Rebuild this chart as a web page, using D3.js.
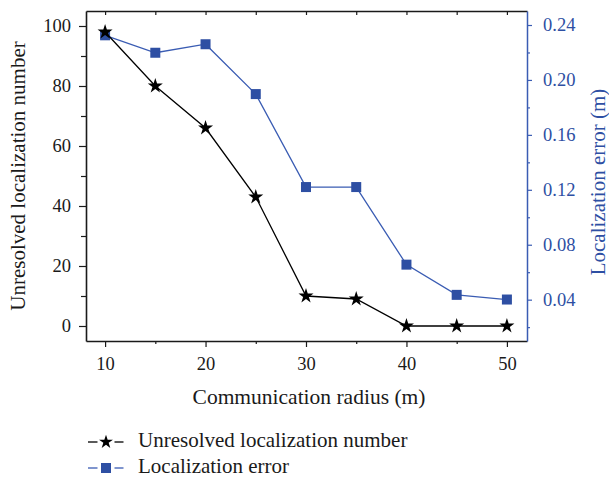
<!DOCTYPE html>
<html>
<head>
<meta charset="utf-8">
<script src="https://cdn.jsdelivr.net/npm/d3@7"></script>
<style>
  html, body { margin: 0; padding: 0; background: #fff; }
  svg text { font-family: "Liberation Serif", "DejaVu Serif", serif; }
</style>
</head>
<body>
<svg id="chart" width="609" height="478"></svg>
<script>
// Communication radius (m)
const radius = [10, 15, 20, 25, 30, 35, 40, 45, 50];
// Number of nodes left unresolved
const unresolved = [98, 80, 66, 43, 10, 9, 0, 0, 0];
// Mean localization error (m)
const locError = [0.2325, 0.2198, 0.226, 0.1897, 0.122, 0.122, 0.0655, 0.0435, 0.0401];

const xTicks = [10, 20, 30, 40, 50];
const xMinor = [15, 25, 35, 45];
const yLeftTicks = [0, 20, 40, 60, 80, 100];
const yLeftMinor = [10, 30, 50, 70, 90];
const yRightTicks = [0.04, 0.08, 0.12, 0.16, 0.20, 0.24];
const yRightMinor = [0.02, 0.06, 0.10, 0.14, 0.18, 0.22];

const seriesNames = ["Unresolved localization number", "Localization error"];

const BLUE = "#2e4fa3";
const BLUE_LINE = "#3a5cb3";
const INK = "#1a1a1a";

const svg = d3.select("#chart");
const m = { left: 86, right: 527, top: 11, bottom: 341 };

const x = d3.scaleLinear().domain([8.1, 52]).range([m.left, m.right]);
const yL = d3.scaleLinear().domain([-5, 105]).range([m.bottom, m.top]);
const yR = d3.scaleLinear().domain([0.0099, 0.2502]).range([m.bottom, m.top]);

function styleTicks(g, color) {
  g.selectAll(".tick line").attr("stroke", color).attr("stroke-width", 1.2);
  g.selectAll(".tick text").attr("font-size", 18.5).attr("fill", color)
    .attr("font-family", "Liberation Serif, serif");
}

// Left axis (black)
svg.append("g").attr("transform", `translate(${m.left},0)`)
  .call(d3.axisLeft(yL).tickValues(yLeftMinor).tickSize(5).tickSizeOuter(0).tickFormat(""))
  .call(g => g.select(".domain").remove())
  .call(g => styleTicks(g, INK));
svg.append("g").attr("transform", `translate(${m.left},0)`)
  .call(d3.axisLeft(yL).tickValues(yLeftTicks).tickSize(7).tickSizeOuter(0).tickPadding(8).tickFormat(d3.format("d")))
  .call(g => g.select(".domain").attr("stroke", INK).attr("stroke-width", 1.6))
  .call(g => styleTicks(g, INK));

// Bottom axis
svg.append("g").attr("transform", `translate(0,${m.bottom})`)
  .call(d3.axisBottom(x).tickValues(xMinor).tickSize(3).tickSizeOuter(0).tickFormat(""))
  .call(g => g.select(".domain").remove())
  .call(g => styleTicks(g, INK));
svg.append("g").attr("transform", `translate(0,${m.bottom})`)
  .call(d3.axisBottom(x).tickValues(xTicks).tickSize(6).tickSizeOuter(0).tickPadding(10).tickFormat(d3.format("d")))
  .call(g => g.select(".domain").attr("stroke", INK).attr("stroke-width", 1.6))
  .call(g => styleTicks(g, INK));

// Top frame with inward ticks
svg.append("g").attr("transform", `translate(0,${m.top})`)
  .call(d3.axisTop(x).tickValues(xTicks.concat(xMinor)).tickSize(-4).tickSizeOuter(0).tickFormat(""))
  .call(g => g.select(".domain").attr("stroke", INK).attr("stroke-width", 1.6))
  .call(g => styleTicks(g, INK));

// Right axis (blue)
svg.append("g").attr("transform", `translate(${m.right},0)`)
  .call(d3.axisRight(yR).tickValues(yRightMinor).tickSize(3).tickSizeOuter(0).tickFormat(""))
  .call(g => g.select(".domain").remove())
  .call(g => styleTicks(g, BLUE_LINE));
svg.append("g").attr("transform", `translate(${m.right},0)`)
  .call(d3.axisRight(yR).tickValues(yRightTicks).tickSize(5).tickSizeOuter(0).tickPadding(11).tickFormat(d3.format(".2f")))
  .call(g => g.select(".domain").attr("stroke", BLUE_LINE).attr("stroke-width", 1.5))
  .call(g => styleTicks(g, BLUE))
  .call(g => g.selectAll(".tick line").attr("stroke", BLUE_LINE));

// Axis titles
svg.append("text").attr("x", 309).attr("y", 404)
  .attr("text-anchor", "middle").attr("font-size", 21.5).attr("fill", INK)
  .text("Communication radius (m)");
svg.append("text").attr("transform", `translate(25,${(m.top + m.bottom) / 2}) rotate(-90)`)
  .attr("text-anchor", "middle").attr("font-size", 21).attr("fill", INK)
  .text("Unresolved localization number");
svg.append("text").attr("transform", `translate(605,${(m.top + m.bottom) / 2 + 6}) rotate(-90)`)
  .attr("text-anchor", "middle").attr("font-size", 21).attr("fill", BLUE)
  .text("Localization error (m)");

// Series: localization error (blue squares)
const lineR = d3.line().x((d, i) => x(radius[i])).y(d => yR(d));
svg.append("path").datum(locError).attr("d", lineR)
  .attr("fill", "none").attr("stroke", BLUE_LINE).attr("stroke-width", 1.3);
svg.append("g").selectAll("rect").data(locError).join("rect")
  .attr("x", (d, i) => x(radius[i]) - 5).attr("y", d => yR(d) - 5)
  .attr("width", 10).attr("height", 10).attr("fill", BLUE);

// Series: unresolved count (black stars)
const lineL = d3.line().x((d, i) => x(radius[i])).y(d => yL(d));
svg.append("path").datum(unresolved).attr("d", lineL)
  .attr("fill", "none").attr("stroke", "#000").attr("stroke-width", 1.3);
const star = d3.symbol().type(d3.symbolStar).size(70);
svg.append("g").selectAll("path").data(unresolved).join("path")
  .attr("transform", (d, i) => `translate(${x(radius[i])},${yL(d)})`)
  .attr("d", star).attr("fill", "#000");

// Legend: short dash, marker, short dash, then label
const legend = svg.append("g");
const legendRows = [
  { name: seriesNames[0], shape: "star", y: 442, base: 446.5 },
  { name: seriesNames[1], shape: "square", y: 468, base: 473 }
];
legendRows.forEach(r => {
  const stroke = r.shape === "star" ? "#000" : BLUE_LINE;
  [[88, 97.5], [114.5, 123.5]].forEach(([a, b]) => {
    legend.append("line").attr("x1", a).attr("x2", b).attr("y1", r.y).attr("y2", r.y)
      .attr("stroke", stroke).attr("stroke-width", 1.3);
  });
  if (r.shape === "star") {
    legend.append("path").attr("transform", `translate(106,${r.y})`)
      .attr("d", d3.symbol().type(d3.symbolStar).size(60)).attr("fill", "#000");
  } else {
    legend.append("rect").attr("x", 101).attr("y", r.y - 5).attr("width", 10).attr("height", 10)
      .attr("fill", BLUE);
  }
  legend.append("text").attr("x", 138).attr("y", r.base).attr("font-size", 21)
    .attr("fill", INK).text(r.name);
});
</script>
</body>
</html>
